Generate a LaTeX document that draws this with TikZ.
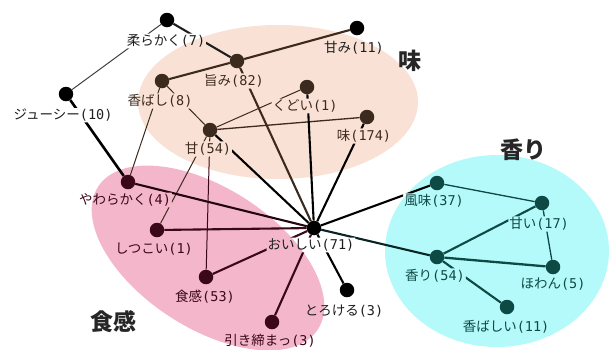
\documentclass[tikz,border=0pt]{standalone}
\usepackage{fontspec}
\setmainfont{Noto Sans CJK JP}
\newfontfamily\jpf{Noto Sans CJK JP}
\newfontfamily\monof{DejaVu Sans Mono}
\newcommand\lbl[2]{{\jpf #1}{\monof(#2)}}
\definecolor{beigef}{HTML}{F9E1D5}
\definecolor{pinkf}{HTML}{F4B6CB}
\definecolor{cyanf}{HTML}{B5FAFA}
\definecolor{cbrown}{HTML}{3D2A1E}
\definecolor{cmaroon}{HTML}{3A0818}
\definecolor{cteal}{HTML}{0E4A45}
\definecolor{cblk}{HTML}{000000}
\definecolor{tblk}{HTML}{1E1E1E}
\definecolor{catc}{HTML}{262626}
\begin{document}
\begin{tikzpicture}[x=1pt,y=-1pt,
  dotn/.style={circle,inner sep=0pt,minimum size=14.5pt},
  lb/.style={inner sep=0.8pt,font=\fontsize{13.5}{14}\selectfont},
  cat/.style={inner sep=0pt,text=catc,font=\jpf\bfseries\fontsize{23}{25}\selectfont},
  ea/.style={line width=1pt},
  eb/.style={line width=2.1pt},
  ec/.style={line width=2.6pt}]
\useasboundingbox (0,0) rectangle (613,349);
% groups
\fill[beigef] (278,102) ellipse [x radius=140pt, y radius=77pt];
\fill[pinkf, rotate around={-33:(208,258)}] (208,258) ellipse [x radius=131pt, y radius=70pt];
\fill[cyanf] (497,251) ellipse [x radius=112pt, y radius=96pt];
% category labels
\node[cat] (Cmi) at (410,61) {味};
\node[cat] (Ckaori) at (523,150) {香り};
\node[cat] (Cshok) at (113,322) {食感};
% dots
\node[dotn,fill=cblk] (yawa7) at (167,20) {};
\node[dotn,fill=cbrown] (umami) at (237,61) {};
\node[dotn,fill=cblk] (amami) at (357,28) {};
\node[dotn,fill=cbrown] (koubashi) at (162,81) {};
\node[dotn,fill=cblk] (juicy) at (66,94) {};
\node[dotn,fill=cbrown] (kudoi) at (307,87) {};
\node[dotn,fill=cbrown] (aji) at (367,117) {};
\node[dotn,fill=cbrown] (ama) at (210,130) {};
\node[dotn,fill=cblk] (oishii) at (314,228) {};
\node[dotn,fill=cmaroon] (yawa4) at (128,182) {};
\node[dotn,fill=cmaroon] (shitsu) at (157,230) {};
\node[dotn,fill=cmaroon] (shokkan) at (206,277) {};
\node[dotn,fill=cmaroon] (hiki) at (272,322) {};
\node[dotn,fill=cblk] (toro) at (347,290) {};
\node[dotn,fill=cteal] (fumi) at (437,183) {};
\node[dotn,fill=cteal] (amai) at (542,203) {};
\node[dotn,fill=cteal] (kaori) at (437,257) {};
\node[dotn,fill=cteal] (howan) at (553,267) {};
\node[dotn,fill=cteal] (koubashii) at (507,307) {};
% labels
\node[lb,text=tblk] (Lyawa7) at (166,41) {\lbl{柔らかく}{7}};
\node[lb,text=cbrown] (Lumami) at (234,81) {\lbl{旨み}{82}};
\node[lb,text=tblk] (Lamami) at (354,48) {\lbl{甘み}{11}};
\node[lb,text=cbrown] (Lkoubashi) at (160,101) {\lbl{香ばし}{8}};
\node[lb,text=tblk] (Ljuicy) at (63,115) {\lbl{ジューシー}{10}};
\node[lb,text=cbrown] (Lkudoi) at (305,106) {\lbl{くどい}{1}};
\node[lb,text=cbrown] (Laji) at (364,136) {\lbl{味}{174}};
\node[lb,text=cbrown] (Lama) at (208,149) {\lbl{甘}{54}};
\node[lb,text=tblk] (Loishii) at (311,245) {\lbl{おいしい}{71}};
\node[lb,text=cmaroon] (Lyawa4) at (125,200) {\lbl{やわらかく}{4}};
\node[lb,text=cmaroon] (Lshitsu) at (154,249) {\lbl{しつこい}{1}};
\node[lb,text=cmaroon] (Lshokkan) at (205,297) {\lbl{食感}{53}};
\node[lb,text=cmaroon] (Lhiki) at (270,341) {\lbl{引き締まっ}{3}};
\node[lb,text=tblk] (Ltoro) at (344,311) {\lbl{とろける}{3}};
\node[lb,text=cteal] (Lfumi) at (434,201) {\lbl{風味}{37}};
\node[lb,text=cteal] (Lamai) at (539,224) {\lbl{甘い}{17}};
\node[lb,text=cteal] (Lkaori) at (435,276) {\lbl{香り}{54}};
\node[lb,text=cteal] (Lhowan) at (553,284) {\lbl{ほわん}{5}};
\node[lb,text=cteal] (Lkoubashii) at (506,327) {\lbl{香ばしい}{11}};
% edges, hidden under the labels
\begin{scope}
\clip (-10,-10) -- (623,-10) -- (623,359) -- (-10,359) -- cycle
  \foreach \n in {Lyawa7,Lumami,Lamami,Lkoubashi,Ljuicy,Lkudoi,Laji,Lama,Loishii,Lyawa4,Lshitsu,Lshokkan,Lhiki,Ltoro,Lfumi,Lamai,Lkaori,Lhowan,Lkoubashii}
  {(\n.south west) -- (\n.south east) -- (\n.north east) -- (\n.north west) -- cycle};
\draw[eb,draw=tblk] (yawa7) -- (umami);
\draw[ea,draw=tblk!85] (yawa7) -- (juicy);
\draw[eb,draw=cbrown] (umami) -- (amami);
\draw[eb,draw=cbrown] (umami) -- (koubashi);
\draw[eb,draw=cbrown] (umami) -- (oishii);
\draw[ea,draw=cbrown] (koubashi) -- (ama);
\draw[ea,draw=cbrown] (koubashi) -- (yawa4);
\draw[ea,draw=cbrown] (ama) -- (kudoi);
\draw[ea,draw=cbrown,line width=1.3pt] (ama) -- (aji);
\draw[eb,draw=cblk] (ama) -- (oishii);
\draw[ea,draw=cbrown] (ama) -- (shitsu);
\draw[ea,draw=cmaroon] (ama) -- (shokkan);
\draw[eb,draw=cblk] (kudoi) -- (oishii);
\draw[eb,draw=cblk] (aji) -- (oishii);
\draw[ec,draw=cblk] (juicy) -- (yawa4);
\draw[eb,draw=cmaroon!60!black] (yawa4) -- (oishii);
\draw[eb,draw=cmaroon] (shitsu) -- (oishii);
\draw[eb,draw=cmaroon] (shokkan) -- (oishii);
\draw[eb,draw=cmaroon] (hiki) -- (oishii);
\draw[eb,draw=cblk] (toro) -- (oishii);
\draw[eb,draw=cblk] (fumi) -- (oishii);
\draw[eb,draw=cteal!50!black] (kaori) -- (oishii);
\draw[ea,draw=cteal,line width=1.3pt] (fumi) -- (amai);
\draw[eb,draw=cteal] (amai) -- (kaori);
\draw[ea,draw=cteal,line width=1.3pt] (amai) -- (howan);
\draw[eb,draw=cteal,line width=2.3pt] (kaori) -- (howan);
\draw[eb,draw=cteal] (kaori) -- (koubashii);
\end{scope}
\end{tikzpicture}
\end{document}
